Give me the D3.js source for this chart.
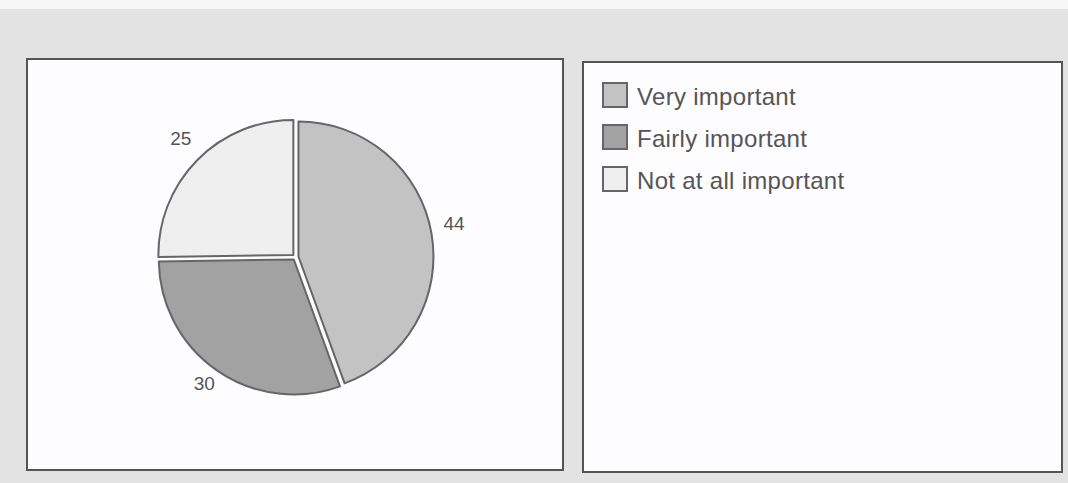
<!DOCTYPE html>
<html lang="en">
<head>
    <meta charset="UTF-8">
    <script src="https://d3js.org/d3.v7.min.js"></script>
    <title>Importance</title>
    <style>
        body { margin: 0; background: #e4e4e4; }
        svg { display: block; }
        text { font-family: "Liberation Sans", Arial, sans-serif; fill: #555; }
    </style>
</head>
<body>
    <svg width="1068" height="483"></svg>
    <script>
        const categories = ['Very important', 'Fairly important', 'Not at all important'];
        const values = [44, 30, 25];
        const colors = ['#c3c3c3', '#a2a2a2', '#efefef'];

        const svg = d3.select('svg');

        // scanned page background
        svg.append('rect').attr('width', 1068).attr('height', 483).attr('fill', '#e3e3e3');
        svg.append('rect').attr('width', 1068).attr('height', 9).attr('fill', '#f6f6f6');

        // two panels
        svg.append('rect')
            .attr('x', 27).attr('y', 59).attr('width', 536).attr('height', 411)
            .attr('fill', '#fdfcfe').attr('stroke', '#555').attr('stroke-width', 2);
        svg.append('rect')
            .attr('x', 583).attr('y', 62).attr('width', 479).attr('height', 410)
            .attr('fill', '#fdfcfe').attr('stroke', '#555').attr('stroke-width', 2);

        // pie
        const cx = 295.5, cy = 257, radius = 135, explode = 3, labelR = 161;
        const pie = d3.pie().sort(null).value(d => d.value);
        const data = categories.map((c, i) => ({ name: c, value: values[i], color: colors[i] }));
        const arcs = pie(data);

        const arc = d3.arc().innerRadius(0).outerRadius(radius);
        const labelArc = d3.arc().innerRadius(labelR).outerRadius(labelR);

        const g = svg.append('g').attr('transform', `translate(${cx}, ${cy})`);

        g.selectAll('path')
            .data(arcs)
            .enter().append('path')
            .attr('d', arc)
            .attr('transform', d => {
                const a = (d.startAngle + d.endAngle) / 2;
                return `translate(${Math.sin(a) * explode}, ${-Math.cos(a) * explode})`;
            })
            .attr('fill', d => d.data.color)
            .attr('stroke', '#666')
            .attr('stroke-width', 2)
            .attr('stroke-linejoin', 'round');

        g.selectAll('text.lbl')
            .data(arcs)
            .enter().append('text')
            .attr('class', 'lbl')
            .attr('x', d => labelArc.centroid(d)[0])
            .attr('y', d => labelArc.centroid(d)[1] - 6)
            .attr('text-anchor', 'middle')
            .attr('dominant-baseline', 'central')
            .style('font-size', '19px')
            .text(d => d.value);

        // legend
        const legend = svg.append('g').attr('transform', 'translate(603, 83)');
        const item = legend.selectAll('g')
            .data(data)
            .enter().append('g')
            .attr('transform', (d, i) => `translate(0, ${i * 42})`);

        item.append('rect')
            .attr('width', 24).attr('height', 24)
            .attr('fill', d => d.color)
            .attr('stroke', '#666')
            .attr('stroke-width', 2);

        item.append('text')
            .attr('x', 34)
            .attr('y', 22)
            .style('font-size', '24px')
            .style('letter-spacing', '0.3px')
            .text(d => d.name);
    </script>
</body>
</html>
